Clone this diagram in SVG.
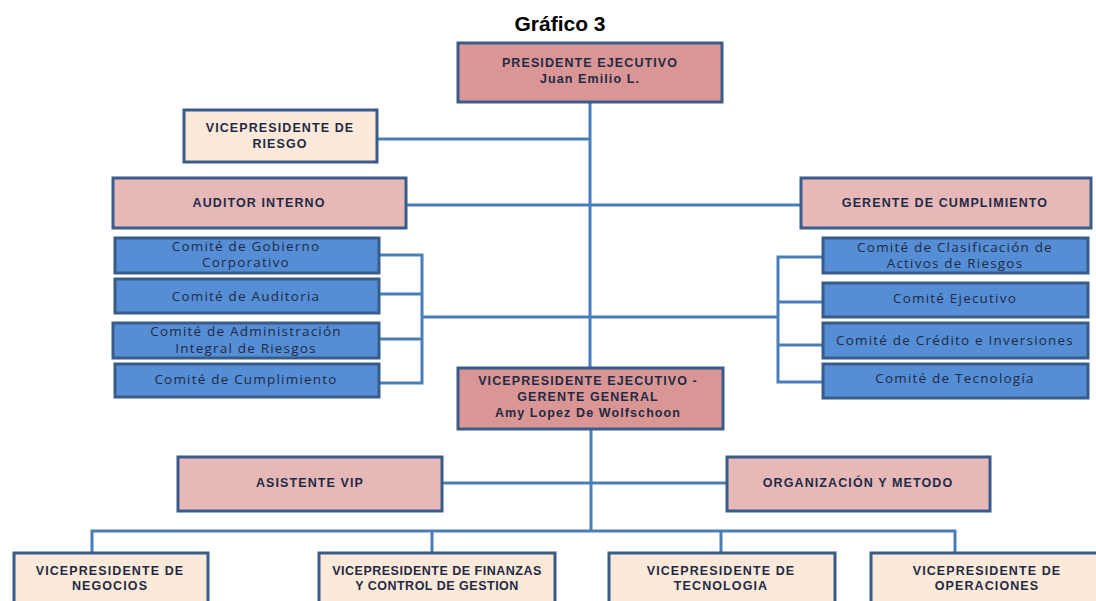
<svg xmlns="http://www.w3.org/2000/svg" width="1096" height="601" viewBox="0 0 1096 601">
<style>
.box{stroke:#385D8A;stroke-width:3}
.p1{fill:#D99694}
.p2{fill:#E6B9B8}
.vp{fill:#FDE9D9}
.cm{fill:#558ED5}
.t{font-family:"Liberation Sans",Arial,sans-serif;font-weight:bold;font-size:12.5px;fill:#1F2A44;text-anchor:middle;letter-spacing:1.1px}
.c{font-family:"Open Sans","Liberation Sans",sans-serif;font-size:13.5px;fill:#1F2A44;text-anchor:middle;letter-spacing:1.2px}
.ln{stroke:#4A7EBB;stroke-width:3;fill:none}
</style>
<rect width="1096" height="601" fill="#FFFFFF"/>
<text x="560" y="31" font-family="Liberation Sans,Arial,sans-serif" font-weight="bold" font-size="21" fill="#000" text-anchor="middle">Gráfico 3</text>
<g id="connectors">
<path class="ln" d="M590 102V368"/>
<path class="ln" d="M377 139H590"/>
<path class="ln" d="M406 205H800"/>
<path class="ln" d="M379 255H422V383H379M379 294H422M379 339H422"/>
<path class="ln" d="M422 317H778"/>
<path class="ln" d="M823 257H778V382H823M778 302H823M778 345H823"/>
<path class="ln" stroke-width="4" d="M591 429V531"/>
<path class="ln" d="M443 483H726"/>
<path class="ln" d="M92 553V531H955V553M432 531V553M721 531V553"/>
</g>
<g id="presidente">
<rect class="box p1" x="458" y="43" width="264" height="59"/>
<text class="t" x="590" y="67">PRESIDENTE EJECUTIVO</text>
<text class="t" x="590" y="83">Juan Emilio L.</text>
</g>
<g id="vp-riesgo">
<rect class="box vp" x="184" y="110" width="193" height="52"/>
<text class="t" x="280" y="132">VICEPRESIDENTE DE</text>
<text class="t" x="280" y="148">RIESGO</text>
</g>
<g id="auditor">
<rect class="box p2" x="113" y="178" width="293" height="50"/>
<text class="t" x="259" y="207">AUDITOR INTERNO</text>
</g>
<g id="gerente-cumplimiento">
<rect class="box p2" x="801" y="178" width="290" height="50"/>
<text class="t" x="945" y="207">GERENTE DE CUMPLIMIENTO</text>
</g>
<g id="comite-gobierno">
<rect class="box cm" x="115" y="238" width="264" height="35"/>
<text class="c" x="246" y="251">Comité de Gobierno</text>
<text class="c" x="246" y="267">Corporativo</text>
</g>
<g id="comite-auditoria">
<rect class="box cm" x="115" y="279" width="264" height="34"/>
<text class="c" x="246" y="301">Comité de Auditoria</text>
</g>
<g id="comite-riesgos">
<rect class="box cm" x="113" y="323" width="266" height="35"/>
<text class="c" x="246" y="336">Comité de Administración</text>
<text class="c" x="246" y="353">Integral de Riesgos</text>
</g>
<g id="comite-cumplimiento">
<rect class="box cm" x="115" y="364" width="264" height="33"/>
<text class="c" x="246" y="384">Comité de Cumplimiento</text>
</g>
<g id="comite-clasificacion">
<rect class="box cm" x="823" y="238" width="265" height="35"/>
<text class="c" x="955" y="252">Comité de Clasificación de</text>
<text class="c" x="955" y="268">Activos de Riesgos</text>
</g>
<g id="comite-ejecutivo">
<rect class="box cm" x="823" y="283" width="265" height="34"/>
<text class="c" x="955" y="303">Comité Ejecutivo</text>
</g>
<g id="comite-credito">
<rect class="box cm" x="823" y="323" width="265" height="35"/>
<text class="c" x="955" y="345">Comité de Crédito e Inversiones</text>
</g>
<g id="comite-tecnologia">
<rect class="box cm" x="823" y="364" width="265" height="34"/>
<text class="c" x="955" y="383">Comité de Tecnología</text>
</g>
<g id="vp-ejecutivo">
<rect class="box p1" x="458" y="368" width="265" height="61"/>
<text class="t" x="588" y="385">VICEPRESIDENTE EJECUTIVO -</text>
<text class="t" x="588" y="401">GERENTE GENERAL</text>
<text class="t" x="588" y="417">Amy Lopez De Wolfschoon</text>
</g>
<g id="asistente">
<rect class="box p2" x="178" y="457" width="264" height="54"/>
<text class="t" x="310" y="487">ASISTENTE VIP</text>
</g>
<g id="organizacion">
<rect class="box p2" x="727" y="457" width="263" height="54"/>
<text class="t" x="858" y="487">ORGANIZACIÓN Y METODO</text>
</g>
<g id="vp-negocios">
<rect class="box vp" x="14" y="553" width="194" height="60"/>
<text class="t" x="110" y="575">VICEPRESIDENTE DE</text>
<text class="t" x="110" y="590">NEGOCIOS</text>
</g>
<g id="vp-finanzas">
<rect class="box vp" x="319" y="553" width="236" height="60"/>
<text class="t" x="437" y="575" style="letter-spacing:0.5px">VICEPRESIDENTE DE FINANZAS</text>
<text class="t" x="437" y="590" style="letter-spacing:0.5px">Y CONTROL DE GESTION</text>
</g>
<g id="vp-tecnologia">
<rect class="box vp" x="609" y="553" width="226" height="60"/>
<text class="t" x="721" y="575">VICEPRESIDENTE DE</text>
<text class="t" x="721" y="590">TECNOLOGIA</text>
</g>
<g id="vp-operaciones">
<rect class="box vp" x="871" y="553" width="234" height="60"/>
<text class="t" x="987" y="575">VICEPRESIDENTE DE</text>
<text class="t" x="987" y="590">OPERACIONES</text>
</g>
</svg>
